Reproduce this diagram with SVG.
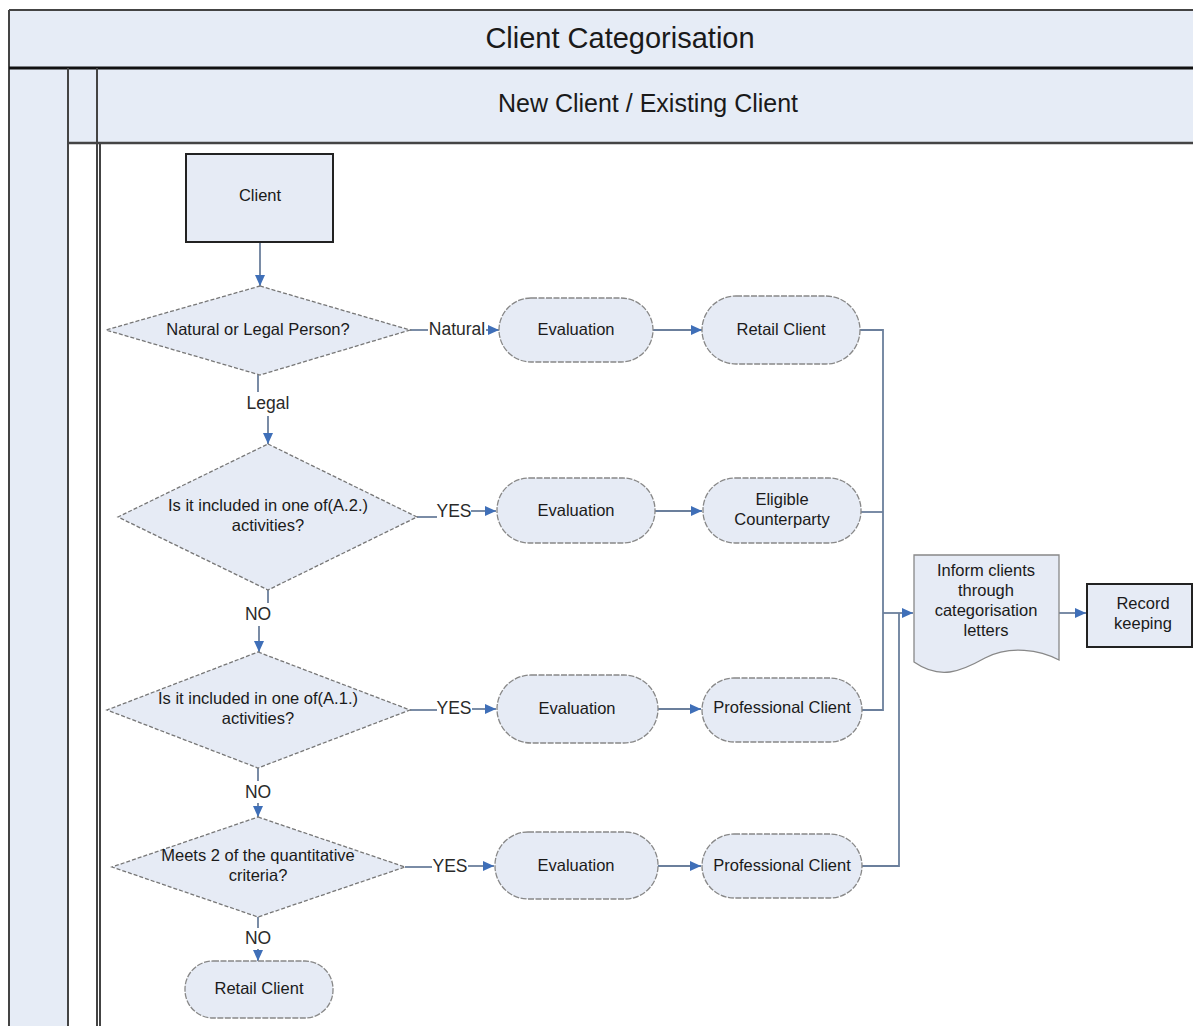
<svg xmlns="http://www.w3.org/2000/svg" width="1193" height="1026" viewBox="0 0 1193 1026">
<defs>
<marker id="arr" markerUnits="userSpaceOnUse" markerWidth="12" markerHeight="10" refX="11" refY="5" orient="auto">
<path d="M0,0 L11,5 L0,10 z" fill="#3f6fb8"/>
</marker>
<style>
.lane{fill:#e6ecf6;}
.t{font-family:"Liberation Sans",Arial,sans-serif;fill:#1a1a1a;text-anchor:middle;}
.n{font-size:16.5px;}
.lbl{font-size:17.5px;fill:#2a2a2a;}
.box{fill:#e6ebf5;stroke:#222;stroke-width:2;}
.dia{fill:#e6ebf5;stroke:#777;stroke-width:1.3;stroke-dasharray:4,2;}
.term{fill:#e6ebf5;stroke:#888;stroke-width:1.3;stroke-dasharray:6,1.5;}
.c{fill:none;stroke:#6b7f9c;stroke-width:1.8;}
.ca{fill:none;stroke:#6b7f9c;stroke-width:1.8;marker-end:url(#arr);}
</style>
</defs>
<rect width="1193" height="1026" fill="#fff"/>

<g id="pool">
<rect class="lane" x="9" y="10" width="1190" height="58"/>
<rect class="lane" x="9" y="68" width="59" height="960"/>
<rect class="lane" x="68" y="68" width="1130" height="75"/>
<line x1="9" y1="10" x2="1193" y2="10" stroke="#444" stroke-width="2"/>
<line x1="9" y1="10" x2="9" y2="1026" stroke="#444" stroke-width="2"/>
<line x1="9" y1="68" x2="1193" y2="68" stroke="#111" stroke-width="3"/>
<line x1="68" y1="68" x2="68" y2="1026" stroke="#444" stroke-width="2"/>
<line x1="97" y1="68" x2="97" y2="1026" stroke="#444" stroke-width="2"/>
<line x1="100" y1="143" x2="100" y2="1026" stroke="#444" stroke-width="2"/>
<line x1="68" y1="143" x2="1193" y2="143" stroke="#444" stroke-width="2.5"/>
<text class="t" x="620" y="48" font-size="29">Client Categorisation</text>
<text class="t" x="648" y="112" font-size="25">New Client / Existing Client</text>
</g>

<g id="connectors">
<line class="ca" x1="260" y1="243" x2="260" y2="286"/>
<line class="c" x1="410" y1="330" x2="428" y2="330"/>
<text class="t lbl" x="457" y="335">Natural</text>
<line class="ca" x1="486" y1="330" x2="499" y2="330"/>
<line class="c" x1="258" y1="375" x2="258" y2="392"/>
<text class="t lbl" x="268" y="409">Legal</text>
<line class="ca" x1="268" y1="416" x2="268" y2="444"/>
<line class="ca" x1="653" y1="330" x2="702" y2="330"/>
<polyline class="c" points="860,330 883,330 883,710 862,710"/>
<line class="c" x1="417" y1="517" x2="437" y2="517"/>
<text class="t lbl" x="454" y="517">YES</text>
<line class="ca" x1="471" y1="511" x2="496" y2="511"/>
<line class="ca" x1="655" y1="511" x2="702" y2="511"/>
<line class="c" x1="861" y1="512" x2="883" y2="512"/>
<line class="c" x1="268" y1="590" x2="268" y2="603"/>
<text class="t lbl" x="258" y="620">NO</text>
<line class="ca" x1="259" y1="626" x2="259" y2="652"/>
<line class="c" x1="410" y1="710" x2="437" y2="710"/>
<text class="t lbl" x="454" y="714">YES</text>
<line class="ca" x1="472" y1="709" x2="496" y2="709"/>
<line class="ca" x1="658" y1="709" x2="701" y2="709"/>
<line class="c" x1="258" y1="768" x2="258" y2="781"/>
<text class="t lbl" x="258" y="798">NO</text>
<line class="ca" x1="258" y1="803" x2="258" y2="817"/>
<line class="c" x1="405" y1="867" x2="432" y2="867"/>
<text class="t lbl" x="450" y="872">YES</text>
<line class="ca" x1="468" y1="866" x2="494" y2="866"/>
<line class="ca" x1="658" y1="866" x2="701" y2="866"/>
<polyline class="c" points="862,866 899,866 899,613"/>
<line class="c" x1="258" y1="917" x2="258" y2="928"/>
<text class="t lbl" x="258" y="944">NO</text>
<line class="ca" x1="258" y1="949" x2="258" y2="961"/>
<line class="ca" x1="883" y1="613" x2="913" y2="613"/>
<line class="ca" x1="1059" y1="613" x2="1086" y2="613"/>
</g>

<g id="client">
<rect class="box" x="186" y="154" width="147" height="88"/>
<text class="t n" x="260" y="201">Client</text>
</g>

<g id="d-natural-legal">
<polygon class="dia" points="260,286 410,330 260,375 106,330"/>
<text class="t n" x="258" y="335">Natural or Legal Person?</text>
</g>

<g id="eval-1">
<rect class="term" x="499" y="298" width="154" height="64" rx="32"/>
<text class="t n" x="576" y="335">Evaluation</text>
</g>
<g id="retail-client-1">
<rect class="term" x="702" y="296" width="158" height="68" rx="34"/>
<text class="t n" x="781" y="335">Retail Client</text>
</g>

<g id="d-a2">
<polygon class="dia" points="268,444 417,517 268,590 118,517"/>
<text class="t n" x="268" y="511">Is it included in one of(A.2.)</text>
<text class="t n" x="268" y="531">activities?</text>
</g>
<g id="eval-2">
<rect class="term" x="497" y="478" width="158" height="65" rx="32"/>
<text class="t n" x="576" y="516">Evaluation</text>
</g>
<g id="eligible-counterparty">
<rect class="term" x="703" y="478" width="158" height="65" rx="32"/>
<text class="t n" x="782" y="505">Eligible</text>
<text class="t n" x="782" y="525">Counterparty</text>
</g>

<g id="d-a1">
<polygon class="dia" points="258,652 410,710 258,768 107,710"/>
<text class="t n" x="258" y="704">Is it included in one of(A.1.)</text>
<text class="t n" x="258" y="724">activities?</text>
</g>
<g id="eval-3">
<rect class="term" x="497" y="675" width="161" height="68" rx="34"/>
<text class="t n" x="577" y="714">Evaluation</text>
</g>
<g id="professional-client-1">
<rect class="term" x="702" y="678" width="160" height="64" rx="32"/>
<text class="t n" x="782" y="713">Professional Client</text>
</g>

<g id="d-quant">
<polygon class="dia" points="258,817 405,867 258,917 112,867"/>
<text class="t n" x="258" y="861">Meets 2 of the quantitative</text>
<text class="t n" x="258" y="881">criteria?</text>
</g>
<g id="eval-4">
<rect class="term" x="495" y="832" width="163" height="67" rx="33"/>
<text class="t n" x="576" y="871">Evaluation</text>
</g>
<g id="professional-client-2">
<rect class="term" x="702" y="834" width="160" height="64" rx="32"/>
<text class="t n" x="782" y="871">Professional Client</text>
</g>

<g id="retail-client-2">
<rect class="term" x="185" y="961" width="148" height="57" rx="28"/>
<text class="t n" x="259" y="994">Retail Client</text>
</g>

<g id="inform-clients">
<path d="M914,555 L1059,555 L1059,660 C1040,650 1010,645 985,658 C960,672 940,680 914,662 Z" fill="#e6ebf5" stroke="#888" stroke-width="1.3"/>
<text class="t n" x="986" y="576">Inform clients</text>
<text class="t n" x="986" y="596">through</text>
<text class="t n" x="986" y="616">categorisation</text>
<text class="t n" x="986" y="636">letters</text>
</g>

<g id="record-keeping">
<rect class="box" x="1087" y="584" width="105" height="63"/>
<text class="t n" x="1143" y="609">Record</text>
<text class="t n" x="1143" y="629">keeping</text>
</g>
</svg>
